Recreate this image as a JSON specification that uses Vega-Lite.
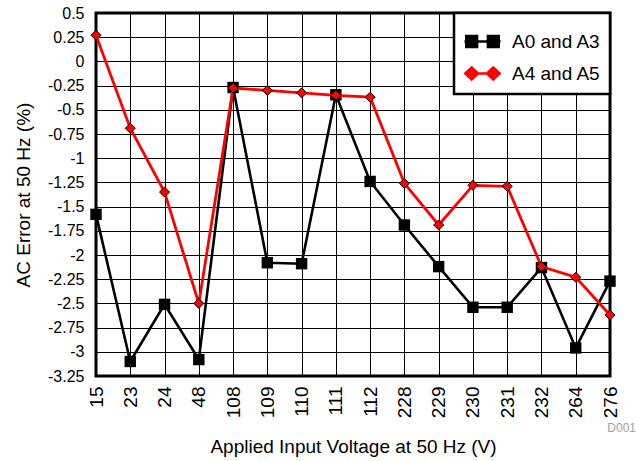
{
  "$schema": "https://vega.github.io/schema/vega-lite/v6.json",
  "width": 514,
  "height": 363,
  "autosize": {"type": "none"},
  "padding": {"left": 96, "top": 13, "right": 26, "bottom": 85},
  "background": "white",
  "title": {"text": "D001", "orient": "bottom", "anchor": "end", "frame": "group", "fontSize": 12, "font": "Liberation Sans", "fontWeight": "normal", "color": "#a0a0a0", "offset": -34, "dx": 26},
  "config": {
    "font": "Liberation Sans",
    "view": {"stroke": "black", "strokeWidth": 3},
    "axis": {"gridColor": "black", "gridWidth": 1, "gridOpacity": 1, "domain": false, "ticks": false, "labelColor": "black", "titleColor": "black", "titleFontWeight": "normal", "labelFont": "Liberation Sans", "titleFont": "Liberation Sans"}
  },
  "data": {"values": [
    {"v": 15, "s": "A0 and A3", "e": -1.58},
    {"v": 23, "s": "A0 and A3", "e": -3.10},
    {"v": 24, "s": "A0 and A3", "e": -2.51},
    {"v": 48, "s": "A0 and A3", "e": -3.08},
    {"v": 108, "s": "A0 and A3", "e": -0.27},
    {"v": 109, "s": "A0 and A3", "e": -2.08},
    {"v": 110, "s": "A0 and A3", "e": -2.09},
    {"v": 111, "s": "A0 and A3", "e": -0.345},
    {"v": 112, "s": "A0 and A3", "e": -1.24},
    {"v": 228, "s": "A0 and A3", "e": -1.69},
    {"v": 229, "s": "A0 and A3", "e": -2.12},
    {"v": 230, "s": "A0 and A3", "e": -2.54},
    {"v": 231, "s": "A0 and A3", "e": -2.54},
    {"v": 232, "s": "A0 and A3", "e": -2.13},
    {"v": 264, "s": "A0 and A3", "e": -2.96},
    {"v": 276, "s": "A0 and A3", "e": -2.27},
    {"v": 15, "s": "A4 and A5", "e": 0.27},
    {"v": 23, "s": "A4 and A5", "e": -0.69},
    {"v": 24, "s": "A4 and A5", "e": -1.35},
    {"v": 48, "s": "A4 and A5", "e": -2.5},
    {"v": 108, "s": "A4 and A5", "e": -0.275},
    {"v": 109, "s": "A4 and A5", "e": -0.30},
    {"v": 110, "s": "A4 and A5", "e": -0.325},
    {"v": 111, "s": "A4 and A5", "e": -0.35},
    {"v": 112, "s": "A4 and A5", "e": -0.37},
    {"v": 228, "s": "A4 and A5", "e": -1.26},
    {"v": 229, "s": "A4 and A5", "e": -1.69},
    {"v": 230, "s": "A4 and A5", "e": -1.28},
    {"v": 231, "s": "A4 and A5", "e": -1.29},
    {"v": 232, "s": "A4 and A5", "e": -2.12},
    {"v": 264, "s": "A4 and A5", "e": -2.23},
    {"v": 276, "s": "A4 and A5", "e": -2.62}
  ]},
  "encoding": {
    "x": {"field": "v", "type": "ordinal", "scale": {"type": "point", "padding": 0},
      "axis": {"title": "Applied Input Voltage at 50 Hz (V)", "labelAngle": 270, "labelFontSize": 19, "labelPadding": 10, "titleFontSize": 19, "titlePadding": 20, "grid": true}},
    "y": {"field": "e", "type": "quantitative", "scale": {"domain": [-3.25, 0.5], "nice": false, "zero": false},
      "axis": {"title": "AC Error at 50 Hz (%)", "values": [0.5, 0.25, 0, -0.25, -0.5, -0.75, -1, -1.25, -1.5, -1.75, -2, -2.25, -2.5, -2.75, -3, -3.25], "labelExpr": "'' + datum.value", "labelFontSize": 16, "labelPadding": 12, "titleFontSize": 19, "titlePadding": 14, "grid": true}}
  },
  "layer": [
    {
      "transform": [{"filter": "datum.s === 'A0 and A3'"}],
      "mark": {"type": "line", "strokeWidth": 2.6},
      "encoding": {
        "color": {"field": "s", "type": "nominal", "scale": {"domain": ["A0 and A3", "A4 and A5"], "range": ["#000000", "#ff0000"]},
          "legend": {"title": null, "orient": "top-right", "offset": 0, "strokeColor": "black", "fillColor": "white", "padding": 9, "labelFontSize": 19, "labelFont": "Liberation Sans", "labelColor": "black", "symbolSize": 1296, "symbolStrokeWidth": 2.5, "labelOffset": 10, "rowPadding": 2,
            "encode": {
              "legend": {"update": {"strokeWidth": {"value": 2.5}}},
              "symbols": {"update": {
                "shape": {"signal": "datum.value === 'A0 and A3' ? 'M-1,0H1M-0.9,-0.3H-0.3V0.3H-0.9ZM0.3,-0.3H0.9V0.3H0.3Z' : 'M-1,0H1M-0.95,0L-0.6,-0.33L-0.25,0L-0.6,0.33ZM0.25,0L0.6,-0.33L0.95,0L0.6,0.33Z'"},
                "fill": {"signal": "datum.value === 'A0 and A3' ? '#000000' : '#ff0000'"},
                "stroke": {"signal": "datum.value === 'A0 and A3' ? '#000000' : '#ff0000'"}
              }}
            }}
        }
      }
    },
    {
      "transform": [{"filter": "datum.s === 'A0 and A3'"}],
      "mark": {"type": "point", "shape": "square", "filled": true, "size": 130, "color": "#000000", "opacity": 1}
    },
    {
      "transform": [{"filter": "datum.s === 'A4 and A5'"}],
      "mark": {"type": "line", "strokeWidth": 2.8},
      "encoding": {
        "color": {"field": "s", "type": "nominal", "scale": {"domain": ["A0 and A3", "A4 and A5"], "range": ["#000000", "#ff0000"]}}
      }
    },
    {
      "transform": [{"filter": "datum.s === 'A4 and A5'"}],
      "mark": {"type": "point", "shape": "diamond", "filled": true, "size": 100, "fill": "#ff0000", "stroke": "#000000", "strokeWidth": 1, "opacity": 1}
    }
  ]
}
